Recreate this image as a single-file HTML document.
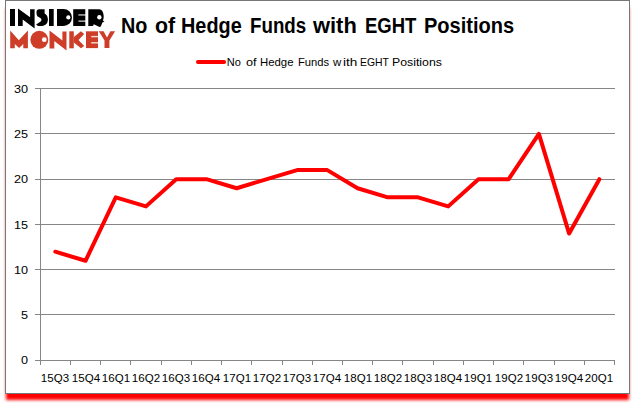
<!DOCTYPE html>
<html><head><meta charset="utf-8"><style>
html,body{margin:0;padding:0;background:#fff;width:635px;height:405px;overflow:hidden;position:relative}
*{font-family:"Liberation Sans",sans-serif}
.box{position:absolute;left:5px;top:0;width:623px;height:392px;border:1px solid #777;box-shadow:0 7px 3px -1px #f00;background:#fff}
svg{position:absolute;left:0;top:0}
.g{stroke:#868686;stroke-width:1;shape-rendering:crispEdges}
.d{stroke:#f00;stroke-width:4;fill:none;stroke-linecap:round;stroke-linejoin:round}
.tw{position:absolute;top:14px;font-weight:bold;font-size:21.4px;color:#000;white-space:nowrap;line-height:24px;transform-origin:0 0}
.lw{position:absolute;top:56px;font-size:11px;color:#000;white-space:nowrap;line-height:13px;transform-origin:0 0}
.yl{position:absolute;left:0;width:28px;text-align:right;font-size:11px;line-height:13px;color:#000;transform:scaleX(1.15);transform-origin:28px 0}
.xl{position:absolute;top:372px;width:30px;text-align:center;font-size:11px;line-height:13px;color:#000;transform:scaleX(1.05);transform-origin:50% 0}
</style></head><body>
<div class="box"></div>
<svg width="635" height="405" viewBox="0 0 635 405">
<g fill="#000">
<rect x="10" y="9" width="5" height="17"/>
<polygon points="18,8.4 30.1,17.3 30.1,9.3 34.6,9.3 34.6,28.5 22.7,19.6 22.7,26 18,26"/>
<path d="M39 9.3 L44.6 9.3 L44.6 13.6 C46.6 14.6 47.9 16.8 47.9 19.6 C47.9 23.4 45.6 25.9 42 25.9 L38 25.9 L36.1 24.6 L40.3 21.8 C41.8 20.8 41.8 18.6 40.3 17.9 L38.6 17.1 C37.2 16.4 36.5 15 36.5 13 L36.5 12 C36.5 10.4 37.6 9.3 39 9.3 Z"/>
<rect x="49" y="9" width="4.7" height="17"/>
<path d="M57 9 L63.5 9 A8.5 8.5 0 0 1 63.5 26 L57 26 Z"/>
<rect x="73.2" y="9.2" width="12.1" height="16.8"/>
<path d="M88.3 9.3 L99 9.3 C102 9.3 103.7 12.5 103.7 16.5 C103.7 18.5 103.3 19.8 102.8 20.5 L104.5 21.4 L102.4 22.4 L100.8 26.5 L99.5 26.9 L93.8 24.2 L93 26 L88.3 26 Z"/>
</g>
<g fill="#fff">
<circle cx="68.3" cy="17.4" r="2.1"/>
<circle cx="99.35" cy="17.2" r="2.2"/>
<rect x="78.4" y="14.3" width="7.5" height="1.3" opacity="0.8"/>
<rect x="78.4" y="20.5" width="7.5" height="1.3" opacity="0.8"/>
</g>
<g fill="#cd3d28">
<polygon points="10.2,30.6 18.8,40.2 27.9,30.6 27.9,48.2 23.3,48.2 23.3,43.9 19.1,47.9 14.8,43.9 14.8,48.2 10.2,48.2"/>
<circle cx="39.3" cy="39.8" r="9"/>
<polygon points="49.5,30.5 62.4,40.5 62.4,31.5 66.5,31.5 66.5,50.4 54.3,41 54.3,48.5 49.5,48.5"/>
<rect x="69.3" y="31.3" width="4.5" height="17"/>
<polygon points="73.8,37 81,31.3 84.2,34 78.5,40 84.2,46 81,48.3 73.8,42.5"/>
<rect x="86" y="31.3" width="12" height="16.8"/>
<polygon points="98.8,31.3 103.6,31.3 107,37.5 110.4,31.3 115.1,31.3 109.4,40.5 109.4,48.1 104.5,48.1 104.5,40.5"/>
</g>
<g fill="#fff">
<circle cx="44.3" cy="39.65" r="2.4"/>
<rect x="91.2" y="35.9" width="7.5" height="1.4" opacity="0.8"/>
<rect x="91.2" y="42.1" width="7.5" height="1.4" opacity="0.8"/>
</g>

<line x1="35" y1="88.5" x2="615" y2="88.5" class="g"/>
<line x1="35" y1="133.5" x2="615" y2="133.5" class="g"/>
<line x1="35" y1="179.5" x2="615" y2="179.5" class="g"/>
<line x1="35" y1="224.5" x2="615" y2="224.5" class="g"/>
<line x1="35" y1="269.5" x2="615" y2="269.5" class="g"/>
<line x1="35" y1="314.5" x2="615" y2="314.5" class="g"/>
<line x1="40.5" y1="88" x2="40.5" y2="361" class="g"/>
<line x1="35" y1="360.5" x2="615" y2="360.5" class="g"/>
<line x1="40.5" y1="360" x2="40.5" y2="365" class="g"/>
<line x1="70.5" y1="360" x2="70.5" y2="365" class="g"/>
<line x1="100.5" y1="360" x2="100.5" y2="365" class="g"/>
<line x1="130.5" y1="360" x2="130.5" y2="365" class="g"/>
<line x1="161.5" y1="360" x2="161.5" y2="365" class="g"/>
<line x1="191.5" y1="360" x2="191.5" y2="365" class="g"/>
<line x1="221.5" y1="360" x2="221.5" y2="365" class="g"/>
<line x1="251.5" y1="360" x2="251.5" y2="365" class="g"/>
<line x1="282.5" y1="360" x2="282.5" y2="365" class="g"/>
<line x1="312.5" y1="360" x2="312.5" y2="365" class="g"/>
<line x1="342.5" y1="360" x2="342.5" y2="365" class="g"/>
<line x1="372.5" y1="360" x2="372.5" y2="365" class="g"/>
<line x1="402.5" y1="360" x2="402.5" y2="365" class="g"/>
<line x1="433.5" y1="360" x2="433.5" y2="365" class="g"/>
<line x1="463.5" y1="360" x2="463.5" y2="365" class="g"/>
<line x1="493.5" y1="360" x2="493.5" y2="365" class="g"/>
<line x1="523.5" y1="360" x2="523.5" y2="365" class="g"/>
<line x1="554.5" y1="360" x2="554.5" y2="365" class="g"/>
<line x1="584.5" y1="360" x2="584.5" y2="365" class="g"/>
<line x1="614.5" y1="360" x2="614.5" y2="365" class="g"/>
<polyline points="55.31,251.70 85.54,260.77 115.76,197.30 145.99,206.37 176.21,179.17 206.44,179.17 236.66,188.23 266.89,179.17 297.11,170.10 327.34,170.10 357.56,188.23 387.79,197.30 418.01,197.30 448.24,206.37 478.46,179.17 508.69,179.17 538.91,133.83 569.14,233.57 599.36,179.17" class="d"/>
<line x1="198" y1="61.9" x2="224.1" y2="61.9" class="d"/>
</svg>
<div class="tw" style="left:120.57px;transform:scaleX(0.9259)">No</div><div class="tw" style="left:154.91px;transform:scaleX(0.9947)">of</div><div class="tw" style="left:181.47px;transform:scaleX(0.9281)">Hedge</div><div class="tw" style="left:249.52px;transform:scaleX(0.8762)">Funds</div><div class="tw" style="left:313.20px;transform:scaleX(1.0238)">with</div><div class="tw" style="left:365.24px;transform:scaleX(0.8638)">EGHT</div><div class="tw" style="left:424.06px;transform:scaleX(0.9368)">Positions</div>
<div class="lw" style="left:226.70px;transform:scaleX(1.0000)">No</div><div class="lw" style="left:245.90px;transform:scaleX(1.1556)">of</div><div class="lw" style="left:259.67px;transform:scaleX(1.0323)">Hedge</div><div class="lw" style="left:297.78px;transform:scaleX(1.0172)">Funds</div><div class="lw" style="left:333.1px;transform:scaleX(1.04)">w</div><div class="lw" style="left:342.87px;transform:scaleX(1.23)">ith</div><div class="lw" style="left:360.06px;transform:scaleX(0.9448)">EGHT</div><div class="lw" style="left:391.98px;transform:scaleX(1.1182)">Positions</div>
<div class="yl" style="top:83px">30</div><div class="yl" style="top:128px">25</div><div class="yl" style="top:173px">20</div><div class="yl" style="top:219px">15</div><div class="yl" style="top:264px">10</div><div class="yl" style="top:309px">5</div><div class="yl" style="top:354px">0</div>
<div class="xl" style="left:40.31px">15Q3</div><div class="xl" style="left:70.54px">15Q4</div><div class="xl" style="left:100.76px">16Q1</div><div class="xl" style="left:130.99px">16Q2</div><div class="xl" style="left:161.21px">16Q3</div><div class="xl" style="left:191.44px">16Q4</div><div class="xl" style="left:221.66px">17Q1</div><div class="xl" style="left:251.89px">17Q2</div><div class="xl" style="left:282.11px">17Q3</div><div class="xl" style="left:312.34px">17Q4</div><div class="xl" style="left:342.56px">18Q1</div><div class="xl" style="left:372.79px">18Q2</div><div class="xl" style="left:403.01px">18Q3</div><div class="xl" style="left:433.24px">18Q4</div><div class="xl" style="left:463.46px">19Q1</div><div class="xl" style="left:493.69px">19Q2</div><div class="xl" style="left:523.91px">19Q3</div><div class="xl" style="left:554.14px">19Q4</div><div class="xl" style="left:584.36px">20Q1</div>
</body></html>
